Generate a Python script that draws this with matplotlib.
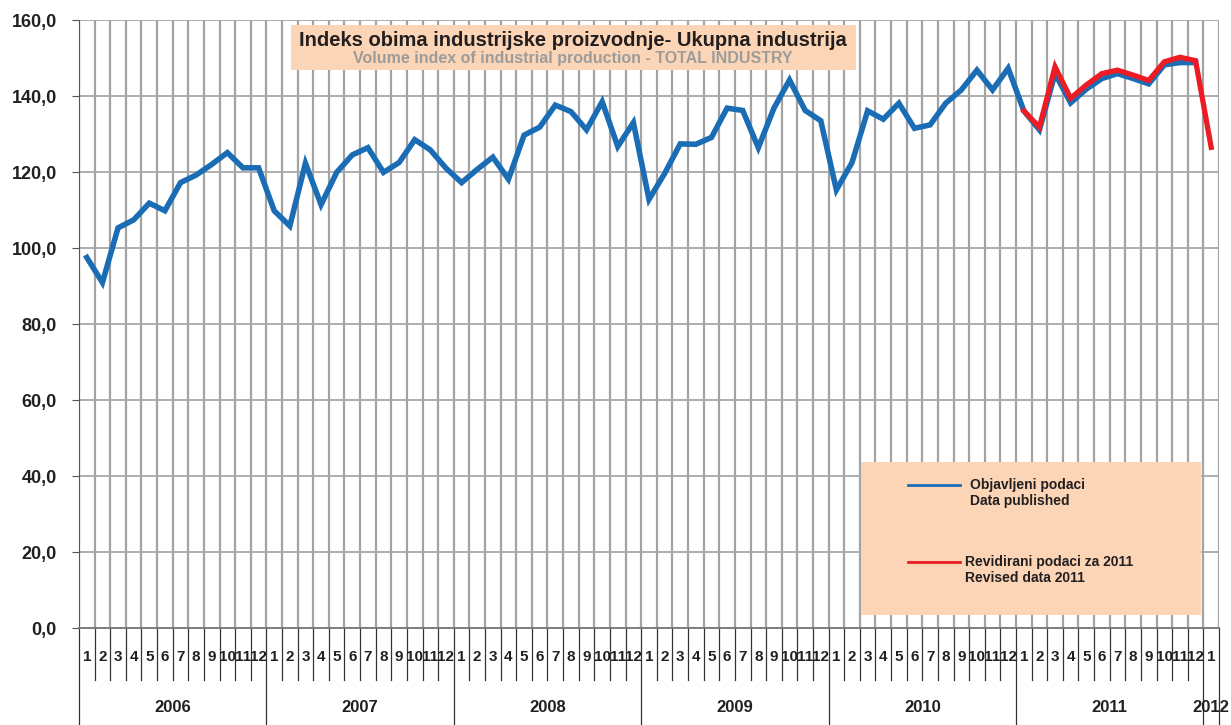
import matplotlib.pyplot as plt
import matplotlib.transforms as mtransforms
from matplotlib.patches import Rectangle

plt.rcParams['font.family'] = ['Liberation Sans', 'DejaVu Sans']

# monthly index, Jan 2006 .. Dec 2011 (published)
published = [97.5, 90.9, 105.3, 107.4, 111.8, 109.8, 117.2, 119.2, 122.0, 125.1, 121.1, 121.1,
             109.8, 105.8, 122.3, 111.4, 119.9, 124.5, 126.4, 119.9, 122.5, 128.5, 125.8, 121.0,
             117.2, 120.7, 123.9, 118.1, 129.7, 131.8, 137.6, 135.9, 131.1, 138.5, 126.7, 133.0,
             112.8, 119.6, 127.4, 127.3, 129.1, 136.8, 136.2, 126.4, 136.8, 144.2, 136.2, 133.5,
             115.3, 122.5, 136.1, 133.9, 138.1, 131.5, 132.4, 138.1, 141.6, 146.8, 141.6, 147.3,
             136.1, 131.1, 145.9, 138.2, 141.8, 144.6, 145.9, 144.6, 143.2, 148.2, 148.8, 148.8]
# revised data, Jan 2011 .. Jan 2012
revised = [136.1, 131.8, 147.7, 139.4, 142.9, 145.9, 146.8, 145.5, 144.1, 149.0, 150.2, 149.3, 126.5]

years = ['2006', '2007', '2008', '2009', '2010', '2011', '2012']
months = [str(m) for m in range(1, 13)]
yticks = [0, 20, 40, 60, 80, 100, 120, 140, 160]

n = len(published) + 1
x_pub = list(range(len(published)))
x_rev = list(range(60, 60 + len(revised)))

fig = plt.figure(figsize=(12.31, 7.25), dpi=100)
ax = fig.add_axes([79 / 1231, 97 / 725, 1140 / 1231, 608 / 725])

ax.set_xlim(-0.5, n - 0.5)
ax.set_ylim(0, 160)

# grid
for k in range(n + 1):
    ax.axvline(k - 0.5, color='#a3a3a3', lw=1.6, zorder=1)
for v in yticks:
    ax.axhline(v, color='#a8a8a8', lw=1.3, zorder=1)

ax.plot(x_pub, published, color='#1a6db5', lw=4.0, solid_joinstyle='miter', zorder=3,
        label='Objavljeni podaci')
ax.plot(x_rev, revised, color='#ed1c24', lw=3.8, solid_joinstyle='miter', zorder=4,
        label='Revidirani podaci za 2011')

for s in ['top', 'right']:
    ax.spines[s].set_visible(False)
ax.spines['left'].set_color('#555555')
ax.spines['bottom'].set_color('#777777')
ax.spines['bottom'].set_linewidth(1.3)
ax.set_yticks(yticks)
ax.set_yticklabels(['%d,0' % v for v in yticks], fontsize=13, fontweight='bold', color='#231f20')
ax.tick_params(axis='y', length=5, color='#555555', pad=11)
ax.set_xticks([])

# category axis below the plot
trans = mtransforms.blended_transform_factory(ax.transData, ax.transAxes)
for k in range(n + 1):
    is_year = (k % 12 == 0) or k == n
    y0 = -0.16 if is_year else -0.0855
    ax.plot([k - 0.5, k - 0.5], [0, y0], transform=trans, color='#333333', lw=0.9,
            clip_on=False)
for k in range(n):
    ax.text(k, -0.048, months[k % 12], transform=trans, ha='center', va='center',
            fontsize=11, fontweight='bold', color='#231f20')
for i, yr in enumerate(years):
    xc = i * 12 + 5.5 if i < len(years) - 1 else 72
    ax.text(xc, -0.13, yr, transform=trans, ha='center', va='center',
            fontsize=12, fontweight='bold', color='#231f20', clip_on=False)

# title box
ax.add_patch(Rectangle((0.186, 0.918), 0.496, 0.074, transform=ax.transAxes,
                       facecolor='#fbd5b5', edgecolor='none', zorder=5))
ax.text(0.4335, 0.9655, 'Indeks obima industrijske proizvodnje- Ukupna industrija',
        transform=ax.transAxes, ha='center', va='center', fontsize=14.5,
        fontweight='bold', color='#231f20', zorder=6)
ax.text(0.4335, 0.936, 'Volume index of industrial production - TOTAL INDUSTRY',
        transform=ax.transAxes, ha='center', va='center', fontsize=11.5,
        fontweight='bold', color='#9c9c9c', zorder=6)

# legend box
ax.add_patch(Rectangle((0.686, 0.0214), 0.298, 0.252, transform=ax.transAxes,
                       facecolor='#fbd5b5', edgecolor='none', zorder=5))
ax.plot([0.7272, 0.7728], [0.2352, 0.2352], transform=ax.transAxes, color='#1a6db5',
        lw=2, zorder=6)
ax.text(0.7816, 0.222, 'Objavljeni podaci\nData published', transform=ax.transAxes,
        ha='left', va='center', fontsize=10, fontweight='bold', color='#231f20',
        linespacing=1.25, zorder=6)
ax.plot([0.7272, 0.7728], [0.1086, 0.1086], transform=ax.transAxes, color='#ed1c24',
        lw=2, zorder=6)
ax.text(0.777, 0.0955, 'Revidirani podaci za 2011\nRevised data 2011', transform=ax.transAxes,
        ha='left', va='center', fontsize=10, fontweight='bold', color='#231f20',
        linespacing=1.25, zorder=6)

fig.savefig('out.png', dpi=100)
